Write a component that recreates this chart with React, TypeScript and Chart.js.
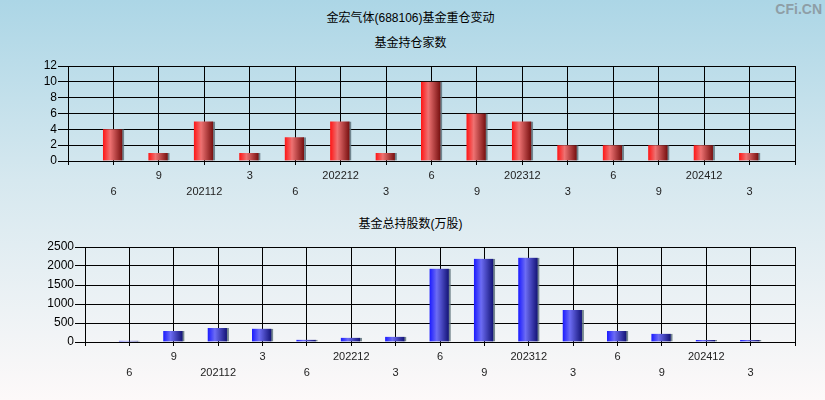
import React, { useEffect, useRef } from "react";
import { Chart, registerables } from "chart.js";

Chart.register(...registerables);

const categories = [
  "202106", "202109", "202112", "202203", "202206", "202212", "202303",
  "202306", "202309", "202312", "202403", "202406", "202409", "202412", "202503",
];
const tickLabels = [
  "6", "9", "202112", "3", "6", "202212", "3", "6", "9", "202312", "3", "6", "9", "202412", "3",
];
const fundCounts = [4, 1, 5, 1, 3, 5, 1, 10, 6, 5, 2, 2, 2, 2, 1];
const fundShares = [30, 290, 370, 350, 60, 110, 135, 1930, 2190, 2220, 840, 290, 215, 55, 55];

const mainTitle = "金宏气体(688106)基金重仓变动";
const topTitle = "基金持仓家数";
const bottomTitle = "基金总持股数(万股)";
const watermark = "CFi.CN";

const FONT = "Arial, 'Liberation Sans', 'Noto Sans CJK SC', sans-serif";

type Stops = [number, string][];
const redStops: Stops = [
  [0, "#ff1414"],
  [0.38, "#ee7272"],
  [1, "#7a1212"],
];
const blueStops: Stops = [
  [0, "#1a1aff"],
  [0.38, "#6c6cf4"],
  [1, "#16167a"],
];

function makeConfig(values: number[], stops: Stops, yMax: number, step: number, yWidth: number): any {
  const labels = ["", ...categories, ""];
  const data = [null, ...values, null];
  const fallback = stops[1][1];
  return {
    type: "bar",
    data: {
      labels,
      datasets: [
        {
          data,
          barThickness: 21,
          borderWidth: { top: 0, left: 0, bottom: 0, right: 2 },
          borderSkipped: false,
          borderColor: "rgba(95,115,125,0.85)",
          backgroundColor: (ctx: any) => {
            const chart = ctx.chart;
            if (!chart.chartArea || ctx.type !== "data") return fallback;
            const x = chart.scales.x.getPixelForValue(ctx.dataIndex);
            const g = chart.ctx.createLinearGradient(x - 10.5, 0, x + 8.5, 0);
            stops.forEach(([o, c]) => g.addColorStop(o, c));
            return g;
          },
        },
      ],
    },
    options: {
      responsive: false,
      animation: false,
      events: [],
      layout: { padding: { top: 10, right: 30, left: 0, bottom: 0 } },
      plugins: { legend: { display: false }, tooltip: { enabled: false }, title: { display: false } },
      scales: {
        x: {
          offset: false,
          grid: { offset: false, color: "#000", lineWidth: 1, drawTicks: true, tickLength: 4 },
          border: { display: true, color: "#000", width: 1 },
          afterFit: (s: any) => {
            s.height = 40;
          },
          ticks: {
            autoSkip: false,
            maxRotation: 0,
            minRotation: 0,
            padding: 3,
            color: "#222",
            font: { family: FONT, size: 11, lineHeight: 16 / 11 },
            callback: (_v: any, index: number) => {
              const i = index - 1;
              if (i < 0 || i >= tickLabels.length) return "";
              return i % 2 === 1 ? [tickLabels[i], ""] : ["", tickLabels[i]];
            },
          },
        },
        y: {
          min: 0,
          max: yMax,
          grid: { color: "#000", lineWidth: 1, drawTicks: true, tickLength: 10 },
          border: { display: true, color: "#000", width: 1 },
          afterFit: (s: any) => {
            s.width = yWidth;
          },
          ticks: {
            stepSize: step,
            autoSkip: false,
            padding: 1,
            color: "#000",
            font: { family: FONT, size: 12 },
            callback: (v: any) => String(v),
          },
        },
      },
    },
  };
}

function BarChart({ values, stops, yMax, step, yWidth, top }: any) {
  const ref = useRef<HTMLCanvasElement | null>(null);
  useEffect(() => {
    if (!ref.current) return;
    const chart = new Chart(ref.current, makeConfig(values, stops, yMax, step, yWidth));
    return () => chart.destroy();
  }, []);
  return (
    <canvas
      ref={ref}
      width={825}
      height={145}
      style={{ position: "absolute", left: 0, top, width: 825, height: 145 }}
    />
  );
}

const textStyle: React.CSSProperties = {
  position: "absolute",
  left: -2,
  width: 825,
  textAlign: "center",
  fontFamily: FONT,
  fontSize: 12,
  lineHeight: "14px",
  color: "#000",
  whiteSpace: "nowrap",
};

export default function App() {
  return (
    <div
      style={{
        position: "absolute",
        left: 0,
        top: 0,
        width: 825,
        height: 400,
        overflow: "hidden",
        background: "linear-gradient(to bottom, #acd6e6 0%, #d6e8ef 45%, #fdf9f9 100%)",
      }}
    >
      <div style={{ ...textStyle, top: 11 }}>{mainTitle}</div>
      <div style={{ ...textStyle, top: 36 }}>{topTitle}</div>
      <div style={{ ...textStyle, top: 217 }}>{bottomTitle}</div>
      <div
        style={{
          position: "absolute",
          right: 3,
          top: 1,
          fontFamily: FONT,
          fontWeight: "bold",
          fontSize: 14,
          color: "#8e9ea6",
        }}
      >
        {watermark}
      </div>
      <BarChart values={fundCounts} stops={redStops} yMax={12} step={2} yWidth={68} top={56} />
      <BarChart values={fundShares} stops={blueStops} yMax={2500} step={500} yWidth={85} top={237} />
    </div>
  );
}
